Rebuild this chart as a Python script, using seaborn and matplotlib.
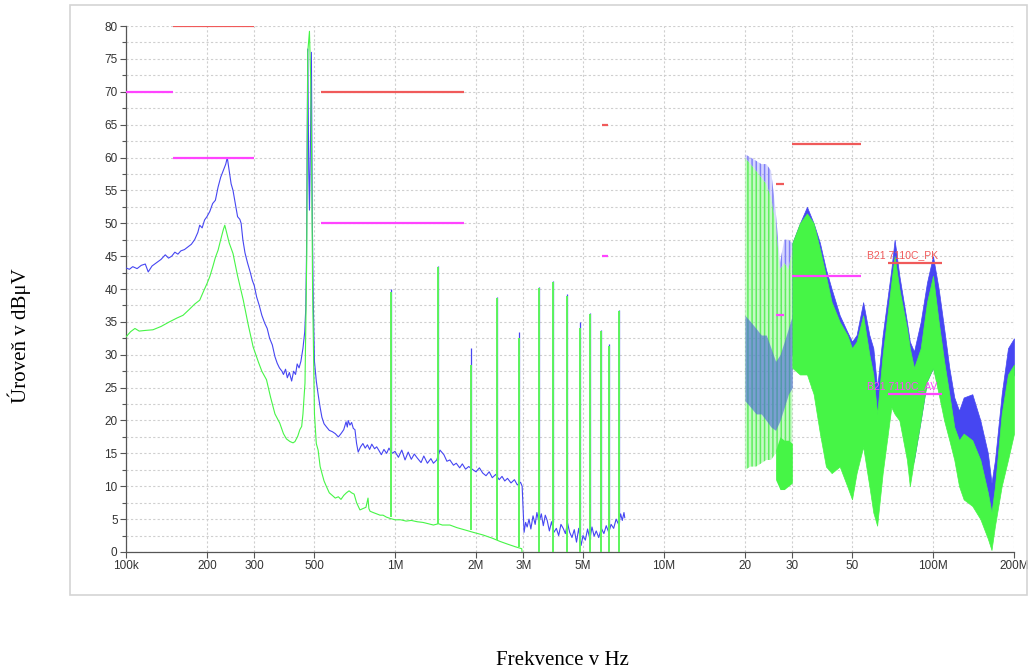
import numpy as np
import matplotlib
matplotlib.use("Agg")
import matplotlib.pyplot as plt
import seaborn as sns
from matplotlib.patches import Rectangle

# ---- data (frequency in kHz / MHz, level in dBuV) ----
# peak trace (blue), 100 kHz .. 7.15 MHz
pk_khz = [100, 103, 106, 110, 114, 118, 121, 125, 130, 135, 140, 144, 148, 152, 156, 160,
          165, 170, 175, 180, 185, 188, 192, 196, 200, 205, 210, 215, 220, 225, 230, 235,
          238, 242, 246, 250, 255, 260, 265, 268, 272, 277, 283, 290, 295, 300, 306, 313,
          320, 328, 335, 342, 350, 358, 365, 372, 380, 385, 392, 398, 405, 413, 420, 427,
          433, 440, 447, 455, 462, 466, 469, 474, 478, 481, 485, 489, 493, 497, 502, 510,
          518, 527, 535, 545, 557, 570, 585, 600, 616, 630, 645, 658, 665, 670, 680, 690,
          700, 710, 720, 730, 745, 760, 775, 790, 805, 820, 840, 855, 870, 890, 910, 931,
          950, 975, 1000, 1030, 1060, 1090, 1120, 1150, 1180, 1210, 1250, 1280, 1320, 1360,
          1390, 1430, 1470, 1520, 1560, 1600, 1650, 1690, 1740, 1780, 1830, 1880, 1950, 2000,
          2060, 2120, 2180, 2240, 2300, 2370, 2440, 2500, 2560, 2620, 2700, 2780, 2850, 2930,
          2970, 3000, 3020, 3060, 3100, 3150, 3200, 3260, 3320, 3370, 3430, 3500, 3560, 3620,
          3680, 3750, 3820, 3900, 3980, 4060, 4140, 4220, 4300, 4380, 4460, 4550, 4640, 4730,
          4820, 4920, 5000, 5100, 5200, 5300, 5400, 5500, 5600, 5720, 5850, 5980, 6100, 6230,
          6360, 6500, 6640, 6780, 6900, 7000, 7100, 7150]
pk_db = [43.2, 43.0, 43.4, 43.1, 43.6, 43.8, 42.6, 43.5, 44.0, 44.5, 45.2, 44.7, 45.0, 45.6,
         45.3, 45.8, 46.0, 46.4, 46.8, 47.5, 48.6, 49.7, 49.3, 50.5, 51.0, 51.8, 53.0, 53.5,
         55.5, 57.0, 58.0, 59.0, 60.0, 58.0, 56.0, 55.0, 53.0, 51.0, 50.6, 50.0, 47.5, 45.5,
         44.0, 42.5, 41.3, 40.5, 38.8, 37.5, 36.0, 34.8, 34.0, 32.5, 31.5, 29.7, 28.7, 28.0,
         27.5, 27.0, 27.8, 26.5, 27.3, 26.0, 27.5, 27.0, 28.6, 28.0, 29.0, 31.0, 33.5, 37.0,
         45.0, 76.5, 58.0, 52.0, 62.0, 76.0, 50.0, 38.0, 29.0, 26.0, 24.0, 22.0, 20.5, 19.5,
         19.0, 18.5, 18.3, 18.0, 17.5, 18.0, 18.6, 19.8, 19.0, 20.0, 19.3, 19.7, 18.8, 18.6,
         16.5, 15.2, 16.0, 16.5, 15.8, 16.3, 15.6, 16.4, 15.7, 16.0, 15.5, 14.8, 15.6, 15.0,
         15.8, 15.0, 15.3, 14.4, 15.5, 14.0, 15.2, 14.1, 14.9, 14.3, 13.6, 14.6, 13.5, 14.2,
         13.5, 14.0, 15.5, 14.8, 13.8, 14.0, 13.2, 13.5, 12.8, 13.4, 12.6, 13.0, 12.5, 12.2,
         12.8, 12.0, 11.6, 12.2, 11.3, 11.8, 11.0, 11.5, 10.8, 11.2, 10.5, 11.0, 10.2, 10.6,
         10.0, 6.0, 3.0, 4.5, 3.8, 5.0, 3.5, 5.5, 4.2, 6.0, 4.5, 5.8, 4.0, 5.6,
         4.8, 3.2, 4.6, 3.0, 3.6, 2.5, 4.2, 3.6, 2.8, 4.4, 3.0, 2.2, 3.4, 1.5,
         3.6, 1.0, 2.5, 1.8, 3.5, 2.0, 3.8, 2.4, 3.2, 2.2, 3.6, 2.8, 4.0, 3.0,
         4.2, 3.6, 5.0, 4.2, 5.8, 4.8, 6.0, 5.2]

# average trace (green), 100 kHz .. 7.15 MHz
av_khz = [100, 104, 108, 112, 118, 126, 135, 145, 155, 163, 172, 180, 188, 195, 200, 205,
          210, 215, 220, 225, 230, 233, 237, 242, 250, 260, 273, 285, 297, 310, 320, 333,
          345, 358, 373, 385, 395, 407, 418, 425, 435, 443, 450, 455, 460, 463, 470, 474,
          481, 486, 490, 494, 502, 510, 518, 527, 535, 545, 557, 570, 585, 600, 616, 630,
          645, 660, 675, 690, 705, 720, 741, 760, 780, 794, 800, 808, 830, 855, 880, 903,
          930, 960, 1000, 1050, 1100, 1150, 1210, 1270, 1330, 1390, 1450, 1500, 1600, 1700,
          1840, 1950, 2120, 2300, 2460, 2620, 2800, 2960, 3000, 7150]
av_db = [32.7, 33.5, 34.0, 33.6, 33.7, 33.8, 34.3, 35.0, 35.6, 36.0, 36.9, 37.7, 38.3, 39.8,
         40.8, 41.9, 43.3, 44.8, 45.9, 47.5, 49.0, 49.7, 48.5, 47.0, 45.4, 42.0, 38.3, 34.5,
         31.2, 29.0, 27.5, 26.2, 23.5, 21.0, 19.6, 18.0, 17.2, 16.8, 16.6, 16.8, 17.6, 18.6,
         19.1, 21.0, 24.0, 25.7, 45.0, 76.0, 79.2, 72.0, 60.0, 40.0, 21.0, 16.5, 15.5, 13.0,
         12.0, 10.8, 9.9, 9.0, 8.6, 8.2, 8.4, 8.0, 8.6, 9.0, 9.3, 9.0, 8.8, 7.5,
         6.4, 6.6, 6.8, 8.2, 6.6, 6.2, 6.0, 5.8, 5.6, 5.6, 5.3, 5.1, 4.9, 4.9,
         4.7, 4.8, 4.6, 4.5, 4.3, 4.1, 4.3, 4.1, 4.1, 3.7, 3.3, 3.0, 2.6, 2.1,
         1.6, 1.2, 0.8, 0.5, -2.0, -2.0]

# narrow spurs between 0.9 and 7 MHz
spur_mhz = [0.963, 1.44, 1.92, 2.39, 2.88, 3.42, 3.87, 4.36, 4.87, 5.33, 5.83, 6.26, 6.81]
spur_pk = [40.0, 43.5, 31.0, 38.8, 33.5, 40.3, 41.2, 39.3, 35.0, 36.4, 33.8, 31.7, 36.8]
spur_av = [39.5, 43.3, 28.5, 38.6, 32.5, 40.1, 41.0, 39.0, 34.0, 36.2, 33.6, 31.4, 36.6]
spur_pk_base = [15.0, 14.0, 13.0, 11.5, 10.5, 5.0, 4.5, 3.5, 1.5, 2.0, 3.0, 3.5, 4.5]
spur_av_base = [5.3, 4.2, 3.3, 1.8, 0.8, 0.0, 0.0, 0.0, 0.0, 0.0, 0.0, 0.0, 0.0]

# 20-30 MHz comb of harmonics
comb_mhz = [20, 21, 22, 23, 24, 25, 26, 27, 28, 29, 30]
comb_pk_hi = [60.5, 60.0, 59.5, 59.0, 59.0, 58.0, 52.0, 44.0, 47.5, 47.5, 47.0]
comb_pk_band_hi = [36, 35, 34, 33, 33, 31, 29, 30, 32, 34, 36]
comb_pk_band_lo = [23, 22, 21, 21, 20, 19, 18.5, 20, 22, 24, 25]
comb_av_hi = [60, 59, 58, 57, 56, 54, 50, 43, 44, 43, 46]
comb_av_lo = [12.5, 13, 13, 13.5, 14, 14, 15, 16, 16, 16, 16]
blob_mhz = [26, 27, 28, 29, 30]
blob_lo = [11.0, 9.5, 9.5, 10.0, 10.5]
blob_hi = [15.5, 17.5, 17.0, 17.0, 16.5]

# 30-200 MHz envelopes
hf_mhz = [30, 32, 34, 36, 38, 40, 42, 45, 48, 50, 52, 55, 58, 60, 62, 65, 70, 72, 75, 80,
          82, 85, 90, 95, 100, 105, 110, 115, 120, 125, 130, 140, 150, 160, 165, 170, 180,
          190, 200]
hf_pk_hi = [47, 50, 52.5, 50, 47, 43, 40, 36, 33.5, 32, 33, 38, 33, 31, 25, 33, 43, 47.5,
            42, 35, 32, 30.5, 35, 41, 45, 40, 34, 28, 23.5, 21.5, 23.5, 24, 20, 15, 10.5,
            14, 24, 31, 32.5]
hf_pk_lo = [30, 30, 28, 26, 24, 20, 18, 18, 16, 14, 16, 20, 16, 12, 8, 14, 24, 26, 22, 16,
            12, 14, 20, 26, 28, 25, 22, 19, 16, 14, 16, 16, 13, 8, 6, 8, 16, 25, 27]
hf_av_hi = [47, 50, 51.5, 50, 46, 42, 38, 35, 33, 31, 32, 36, 30, 27, 21, 30, 41, 45, 40,
            34, 31, 28, 31, 38, 42, 35, 29, 24, 19, 17, 18, 17, 14, 9, 6, 10, 21, 27, 28.5]
hf_av_lo = [28, 27, 27, 24, 18, 13, 12, 13, 10, 8, 12, 16, 10, 6, 4, 12, 22, 21, 20, 14,
            10, 14, 20, 26, 28, 24, 20, 17, 14, 10, 8, 7, 5, 2, 0.3, 4, 10, 14, 18]

# limit lines (CISPR 25 bands)
lim_start_mhz = [0.15, 0.53, 5.9, 26, 30, 68]
lim_stop_mhz = [0.3, 1.8, 6.2, 28, 54, 108]
lim_pk = [80, 70, 65, 56, 62, 44]
lim_av = [60, 50, 45, 36, 42, 24]
extra_av = (0.1, 0.15, 70)

tick_hz = [1e5, 2e5, 3e5, 5e5, 1e6, 2e6, 3e6, 5e6, 1e7, 2e7, 3e7, 5e7, 1e8, 2e8]
tick_lbl = ['100k', '200', '300', '500', '1M', '2M', '3M', '5M', '10M', '20', '30', '50',
            '100M', '200M']

BLUE = '#4646f2'
GREEN = '#46f546'
RED = '#f05a5a'
MAGENTA = '#ff44ff'

sns.set_theme(style='white')
plt.rcParams['font.family'] = ['Liberation Sans', 'DejaVu Sans']
plt.rcParams['hatch.linewidth'] = 1.1

fig = plt.figure(figsize=(10.29, 6.69), dpi=100)
fig.patches.append(Rectangle((0.068, 0.111), 0.930, 0.882, transform=fig.transFigure,
                             fill=False, edgecolor='#d4d4d4', lw=1.2))
ax = fig.add_axes([0.1224, 0.1749, 0.863, 0.7862])

pk_hz = np.array(pk_khz) * 1e3
av_hz = np.array(av_khz) * 1e3
sns.lineplot(x=pk_hz, y=pk_db, ax=ax, color=BLUE, lw=0.8, estimator=None, sort=False, zorder=3)
ax.vlines(np.array(spur_mhz) * 1e6, spur_pk_base, spur_pk, color=BLUE, lw=0.9, zorder=3)
sns.lineplot(x=av_hz, y=av_db, ax=ax, color=GREEN, lw=0.8, estimator=None, sort=False, zorder=4)
ax.vlines(np.array(spur_mhz) * 1e6, spur_av_base, spur_av, color='#5cf55c', lw=1.4, zorder=4)

# 20-30 MHz comb
cm = np.array(comb_mhz) * 1e6
ax.fill_between(cm, comb_av_lo, comb_av_hi, facecolor=(0.55, 0.97, 0.55, 0.5),
                edgecolor='#5fee5f', hatch='||||', lw=0, zorder=3)
ax.fill_between(cm, comb_av_hi, comb_pk_hi, facecolor=(0.6, 0.6, 1.0, 0.4),
                edgecolor='#8080f5', hatch='||||', lw=0, zorder=3)
ax.fill_between(cm, comb_pk_band_lo, comb_pk_band_hi, color='#4a62dc', alpha=0.6, lw=0, zorder=3)
ax.fill_between(np.array(blob_mhz) * 1e6, blob_lo, blob_hi, color=GREEN, lw=0, zorder=4)

# 30-200 MHz
hm = np.array(hf_mhz) * 1e6
ax.fill_between(hm, hf_pk_lo, hf_pk_hi, color=BLUE, lw=0.5, edgecolor=BLUE, zorder=3)
ax.fill_between(hm, hf_av_lo, hf_av_hi, color=GREEN, lw=0.5, edgecolor=GREEN, zorder=4)

# limits
ls = np.array(lim_start_mhz) * 1e6
le = np.array(lim_stop_mhz) * 1e6
ax.hlines(lim_pk, ls, le, color=RED, lw=1.6, zorder=6)
ax.hlines(lim_av, ls, le, color=MAGENTA, lw=1.6, zorder=6)
ax.hlines(extra_av[2], extra_av[0] * 1e6, extra_av[1] * 1e6, color=MAGENTA, lw=1.6, zorder=6)
ax.text(57e6, 45.2, 'B21 7110C_PK', color=RED, fontsize=7.5, va='center', ha='left', zorder=7)
ax.text(57e6, 25.2, 'B21 7110C_AV', color=MAGENTA, fontsize=7.5, va='center', ha='left', zorder=7)

ax.set_xscale('log')
ax.set_xlim(1e5, 2e8)
ax.set_ylim(0, 80)
ax.set_xticks(tick_hz)
ax.set_xticklabels(tick_lbl)
ax.xaxis.set_minor_locator(matplotlib.ticker.NullLocator())
ax.set_yticks(np.arange(0, 81, 5))
ax.set_yticks(np.arange(0, 81, 2.5), minor=True)
ax.tick_params(axis='both', which='major', direction='out', length=4, width=0.8,
               color='#555555', labelsize=8.5, labelcolor='#333333', pad=2)
ax.tick_params(axis='y', which='minor', direction='out', length=3, width=0.8, color='#555555')
ax.tick_params(axis='x', which='major', bottom=True)
ax.tick_params(axis='y', which='both', left=True)
ax.grid(True, axis='x', which='major', color='#cfcfcf', ls=(0, (2, 2)), lw=0.8)
ax.grid(True, axis='y', which='both', color='#cfcfcf', ls=(0, (2, 2)), lw=0.8)
ax.set_axisbelow(True)
for s in ['top', 'right']:
    ax.spines[s].set_visible(False)
for s in ['left', 'bottom']:
    ax.spines[s].set_color('#555555')
    ax.spines[s].set_linewidth(0.9)
ax.set_xlabel('')
ax.set_ylabel('')

fig.text(0.547, 0.013, 'Frekvence v Hz', fontsize=15, family=['Liberation Serif'],
         ha='center', va='center', color='black')
fig.text(0.019, 0.499, 'Úroveň v dBμV', fontsize=15, family=['Liberation Serif'],
         rotation=90, ha='center', va='center', color='black')

fig.savefig('out.png', dpi=100)
